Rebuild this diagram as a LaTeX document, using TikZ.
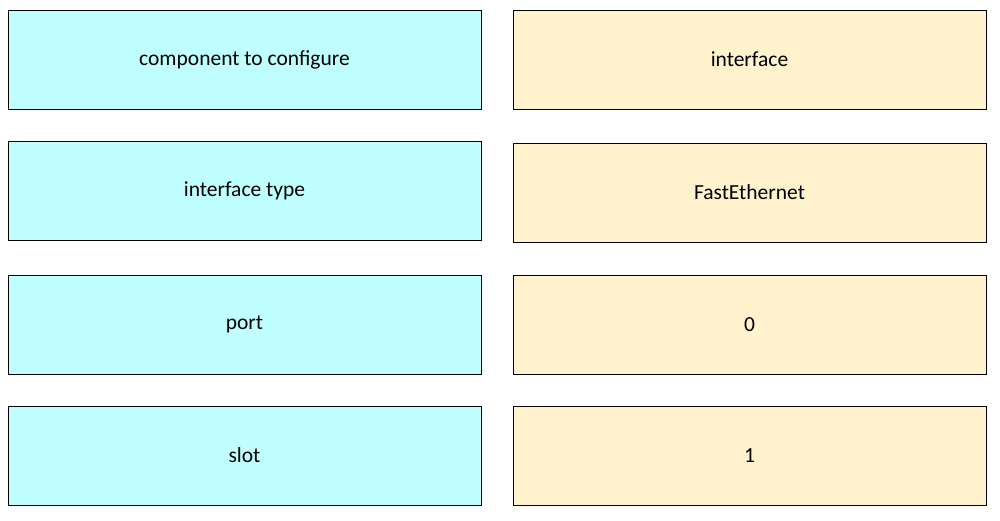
\documentclass[tikz,border=0pt]{standalone}
\usepackage{fontspec}
\setmainfont{Carlito}
\begin{document}
\begin{tikzpicture}[x=1pt,y=-1pt,
  box/.style={draw=black,line width=0.8pt,minimum width=473pt,minimum height=99pt,inner sep=0pt,font=\fontsize{21.5}{25}\selectfont},
  lb/.style={box,fill=lc},
  rb/.style={box,fill=rc}]
\definecolor{lc}{HTML}{C0FFFF}
\definecolor{rc}{HTML}{FFF2CC}
\useasboundingbox (0,0) rectangle (1000,520);
\node[lb] (l1) at (244.5,59.5) {component to configure};
\node[lb] (l2) at (244.5,191) {interface type};
\node[lb] (l3) at (244.5,324.5) {port};
\node[lb] (l4) at (244.5,455.5) {slot};
\node[rb] (r1) at (749.5,59.5) {interface};
\node[rb] (r2) at (749.5,192.5) {FastEthernet};
\node[rb] (r3) at (749.5,324.5) {0};
\node[rb] (r4) at (749.5,455.5) {1};
\end{tikzpicture}
\end{document}
